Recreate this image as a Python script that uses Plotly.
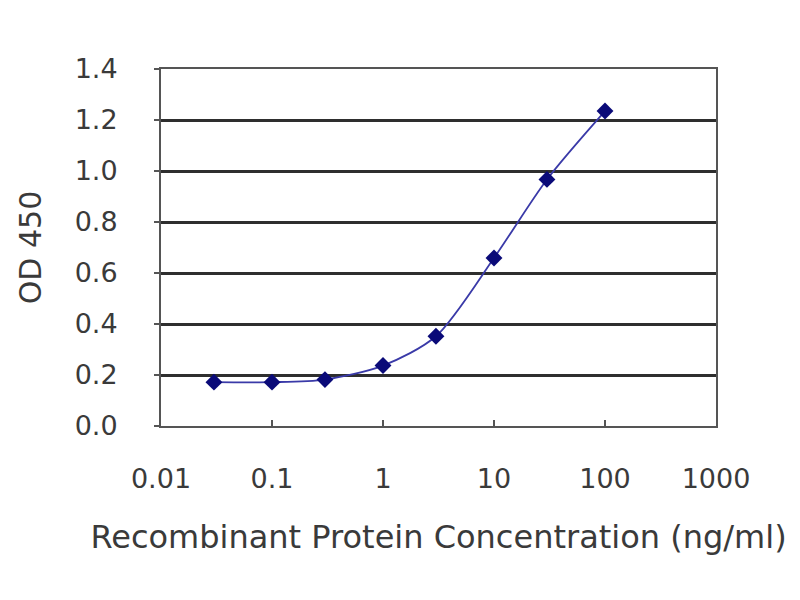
import plotly.graph_objects as go

# concentration (ng/ml) and measured OD 450
concentration = [0.03, 0.1, 0.3, 1, 3, 10, 30, 100]
od450 = [0.172, 0.172, 0.182, 0.237, 0.352, 0.659, 0.967, 1.235]

x_ticks = [0.01, 0.1, 1, 10, 100, 1000]
x_ticklabels = ["0.01", "0.1", "1", "10", "100", "1000"]
y_ticks = [0.0, 0.2, 0.4, 0.6, 0.8, 1.0, 1.2, 1.4]
y_ticklabels = ["0.0", "0.2", "0.4", "0.6", "0.8", "1.0", "1.2", "1.4"]

fig = go.Figure()
fig.add_trace(go.Scatter(
    x=concentration, y=od450,
    mode="lines+markers",
    line=dict(color="#3a3aa8", width=1.8, shape="spline", smoothing=0.8),
    marker=dict(symbol="diamond", size=13, color="#0a0a78"),
    showlegend=False,
))

fig.update_layout(
    width=800, height=600,
    margin=dict(l=153, r=92, t=61, b=182),
    paper_bgcolor="white",
    plot_bgcolor="white",
    font=dict(family="DejaVu Sans, sans-serif", size=27, color="#3a3a3a"),
)
fig.update_xaxes(
    type="log",
    range=[-2, 3],
    tickvals=x_ticks, ticktext=x_ticklabels,
    showgrid=False,
    showline=True, linecolor="#555555", linewidth=2, mirror=True,
    ticks="inside", ticklen=6, tickcolor="#555555", tickwidth=2,
    ticklabelstandoff=28,
    tickfont=dict(size=27),
    title=dict(text="Recombinant Protein Concentration (ng/ml)", standoff=32,
               font=dict(size=32)),
)
fig.update_yaxes(
    range=[0, 1.4],
    tickvals=y_ticks, ticktext=y_ticklabels,
    showgrid=True, gridcolor="#2e2e2e", gridwidth=2.5,
    showline=True, linecolor="#555555", linewidth=2, mirror=True,
    ticks="outside", ticklen=5, tickcolor="#555555", tickwidth=2,
    ticklabelstandoff=31,
    tickfont=dict(size=27),
    zeroline=False,
    title=dict(text="OD 450", standoff=24, font=dict(size=30)),
)

fig.write_html("out.html")
